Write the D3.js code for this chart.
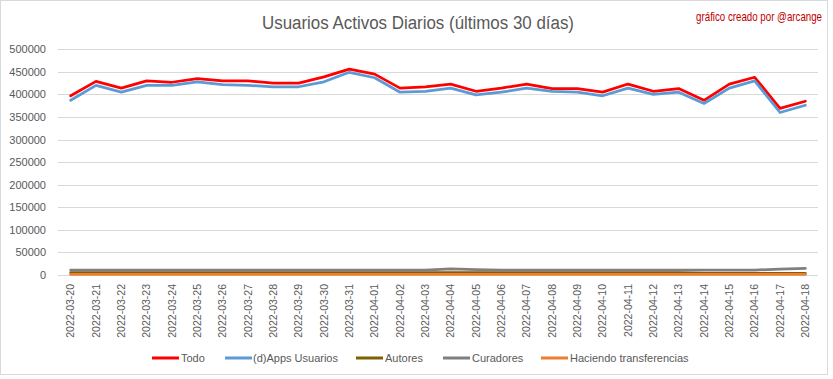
<!DOCTYPE html>
<html>
<head>
<meta charset="utf-8">
<script src="https://cdn.jsdelivr.net/npm/d3@7"></script>
<style>
  html, body { margin: 0; padding: 0; background: #fff; }
  svg { display: block; font-family: "Liberation Sans", Arial, sans-serif; }
</style>
</head>
<body>
<svg id="chart" width="833" height="379"></svg>
<script>
const dates = ["2022-03-20","2022-03-21","2022-03-22","2022-03-23","2022-03-24","2022-03-25","2022-03-26","2022-03-27","2022-03-28","2022-03-29","2022-03-30","2022-03-31","2022-04-01","2022-04-02","2022-04-03","2022-04-04","2022-04-05","2022-04-06","2022-04-07","2022-04-08","2022-04-09","2022-04-10","2022-04-11","2022-04-12","2022-04-13","2022-04-14","2022-04-15","2022-04-16","2022-04-17","2022-04-18"];
const todo = [397000,429000,414000,430000,427000,435000,430000,430000,425000,425000,439000,456000,445000,414000,417000,423000,407000,414000,423000,413000,413000,405000,423000,407000,413000,387000,423000,438000,369000,385000];
const dapps = [387000,420000,405000,420000,420000,428000,422000,420000,417000,417000,428000,449000,437000,405000,407000,414000,399000,405000,414000,407000,405000,397000,414000,400000,405000,380000,414000,430000,360000,376000];
const autores = [5000,5500,5500,5500,5500,5000,5000,5000,5500,5500,5500,5500,5500,5000,5000,5500,5500,5500,5500,5000,5000,5000,5500,5500,5500,3500,3500,3500,3500,3500];
const curadores = [11000,11000,11000,11000,11000,11000,11000,11000,11000,11000,11000,11000,11000,11000,11000,13500,12000,11000,11000,11000,11000,11000,11000,11000,11000,11000,11000,11000,13000,14500];
const transferencias = [1500,1500,1500,1500,1500,1500,1500,1500,1500,1500,1500,1500,1500,1500,1500,1500,1500,1500,1500,1500,1500,1500,1500,1500,1500,1500,1500,1500,1500,1500];
const yTicks = [0,50000,100000,150000,200000,250000,300000,350000,400000,450000,500000];

const seriesNames = ["Todo","(d)Apps Usuarios","Autores","Curadores","Haciendo transferencias"];
const seriesColors = ["#ff0000","#5b9bd5","#806000","#7f7f7f","#ed7d31"];
const seriesValues = [todo, dapps, autores, curadores, transferencias];

const svg = d3.select("#chart");
const textColor = "#595959";

svg.append("rect").attr("x",0.5).attr("y",0.5).attr("width",827).attr("height",374)
  .attr("fill","#fff").attr("stroke","#d9d9d9");

const plotLeft = 58, plotRight = 818, plotTop = 49.3, plotBottom = 275;
const x = d3.scaleBand().domain(dates).range([plotLeft, plotRight]);
const y = d3.scaleLinear().domain([0, 500000]).range([plotBottom, plotTop]);

svg.append("g").selectAll("line").data(yTicks).join("line")
  .attr("x1", plotLeft).attr("x2", plotRight)
  .attr("y1", d => Math.round(y(d)) + 0.5).attr("y2", d => Math.round(y(d)) + 0.5)
  .attr("stroke", "#d9d9d9").attr("stroke-width", 1);

const yAxis = d3.axisLeft(y).tickValues(yTicks).tickSize(0).tickPadding(0).tickFormat(d3.format("d"));
const gy = svg.append("g").attr("transform", `translate(${plotLeft - 12},0)`).call(yAxis);
gy.select(".domain").remove();
gy.selectAll("text").attr("fill", textColor).attr("font-size", "11px")
  .attr("font-family", "'Liberation Sans', Arial, sans-serif");

const xAxis = d3.axisBottom(x).tickSize(0).tickPadding(0);
const gx = svg.append("g").attr("transform", `translate(0,${plotBottom})`).call(xAxis);
gx.select(".domain").remove();
gx.selectAll("text")
  .attr("fill", textColor).attr("font-size", "10.5px")
  .attr("font-family", "'Liberation Sans', Arial, sans-serif")
  .attr("text-anchor", "end")
  .attr("dy", "0.35em")
  .attr("transform", "translate(0,9) rotate(-90)")
  .attr("y", 0).attr("x", 0);

const line = d3.line().x((d, i) => x(dates[i]) + x.bandwidth() / 2).y(d => y(d));
seriesValues.forEach((vals, k) => {
  svg.append("path").datum(vals)
    .attr("fill", "none")
    .attr("stroke", seriesColors[k])
    .attr("stroke-width", 2.75)
    .attr("stroke-linejoin", "round")
    .attr("stroke-linecap", "round")
    .attr("d", line);
});

svg.append("text").attr("x", 418).attr("y", 29).attr("text-anchor", "middle")
  .attr("fill", textColor).attr("font-size", "18px")
  .attr("textLength", 312).attr("lengthAdjust", "spacingAndGlyphs")
  .text("Usuarios Activos Diarios (últimos 30 días)");

svg.append("text")
  .attr("transform", "translate(822,21) scale(0.81,1)")
  .attr("text-anchor", "end")
  .attr("fill", "#c00000").attr("font-size", "12px")
  .text("gráfico creado por @arcange");

const legendItems = [
  {sx: 152, tx: 181},
  {sx: 225, tx: 253},
  {sx: 356, tx: 385},
  {sx: 443, tx: 472},
  {sx: 541, tx: 570}
];
const ly = 358;
const lg = svg.append("g");
legendItems.forEach((it, k) => {
  lg.append("line").attr("x1", it.sx).attr("x2", it.sx + 27)
    .attr("y1", ly).attr("y2", ly)
    .attr("stroke", seriesColors[k]).attr("stroke-width", 3);
  lg.append("text").attr("x", it.tx).attr("y", ly).attr("dy", "0.35em")
    .attr("fill", textColor).attr("font-size", "11px")
    .text(seriesNames[k]);
});
</script>
</body>
</html>
